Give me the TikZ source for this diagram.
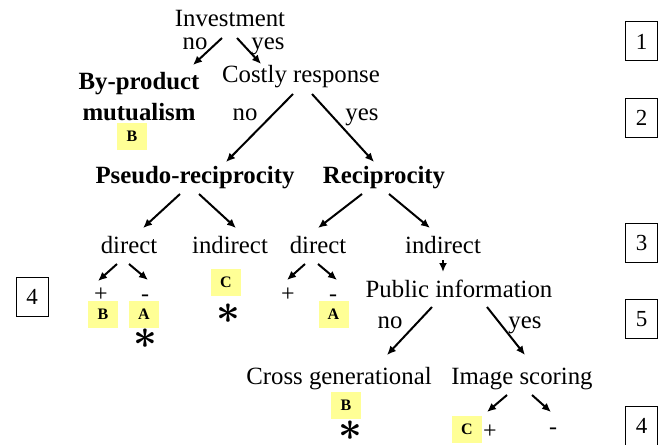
\documentclass[tikz,border=0pt]{standalone}
\usepackage{fontspec}
\setmainfont{Liberation Serif}
\usetikzlibrary{arrows.meta}
\definecolor{tagyellow}{RGB}{255,255,150}

\begin{document}
\begin{tikzpicture}[
		x=0.5pt, y=-0.5pt,
		line width=1pt,
		lbl/.style={inner sep=0pt, anchor=base, text height=8.5pt, text depth=2.5pt, font=\fontsize{12.4}{15.5}\selectfont},
		head/.style={lbl, font=\fontsize{12.4}{15.5}\selectfont\bfseries},
		sgn/.style={lbl, font=\fontsize{12}{14}\selectfont},
		tag/.style={fill=tagyellow, inner sep=0pt, minimum width=15pt, minimum height=13.5pt, font=\fontsize{8}{9}\selectfont\bfseries},
		star/.style={inner sep=0pt, anchor=base, font=\fontsize{20}{20}\selectfont\boldmath},
		level/.style={draw, line width=0.5pt, inner sep=0pt, minimum width=16pt, minimum height=19.5pt, font=\fontsize{11.5}{12}\selectfont},
		arrow/.style={-{Latex[length=4.5pt,width=4pt]}},
	]
		\useasboundingbox (0,0) rectangle (667,444);

		\node (inv) [lbl] at (230,27) {Investment};
		\node (no1) [lbl] at (195,50) {no};
		\node (yes1) [lbl] at (268,50) {yes};
		\node (bpm) [anchor=north, inner sep=0pt, align=center, font=\fontsize{12.4}{15.5}\selectfont\bfseries] at (139,71) {By-product\\mutualism};
		\node (tb1) [tag] at (132,136.5) {B};
		\node (cost) [lbl] at (301,83) {Costly response};
		\node (no2) [lbl] at (245,120) {no};
		\node (yes2) [lbl] at (362,120) {yes};

		\node (pseudo) [head] at (195,183) {Pseudo-reciprocity};
		\node (recip) [head] at (384,183) {Reciprocity};

		\node (dirL) [lbl] at (129,253) {direct};
		\node (indL) [lbl] at (230,253) {indirect};
		\node (dirR) [lbl] at (318,253) {direct};
		\node (indR) [lbl] at (443,253) {indirect};

		\node (plusL) [sgn] at (101,301) {+};
		\node (minusL) [sgn] at (145,301) {-};
		\node (tbL) [tag] at (103,314.5) {B};
		\node (taL) [tag] at (144,314.5) {A};
		\node (stL) [star] at (145,348) {$\ast$};
		\node (tcL) [tag] at (226,282.5) {C};
		\node (stC) [star] at (228,323) {$\ast$};
		\node (plusR) [sgn] at (288,301) {+};
		\node (minusR) [sgn] at (333,301) {-};
		\node (taR) [tag] at (333.5,314) {A};

		\node (pub) [lbl] at (459,297) {Public information};
		\node (no3) [lbl] at (390,328) {no};
		\node (yes3) [lbl] at (525,328) {yes};
		\node (cross) [lbl] at (339,384) {Cross generational};
		\node (img) [lbl] at (522,384) {Image scoring};
		\node (tbX) [tag] at (346,405.5) {B};
		\node (stX) [star] at (350,440) {$\ast$};
		\node (tcI) [tag] at (467,429.5) {C};
		\node (plusI) [sgn] at (490,438) {+};
		\node (minusI) [sgn] at (553,434) {-};

		% levels
		\node (lv1) [level] at (641.5,41.5) {1};
		\node (lv2) [level] at (641.5,117.5) {2};
		\node (lv3) [level] at (641.5,242.5) {3};
		\node (lv5) [level] at (641.5,319) {5};
		\node (lv4) [level] at (641.5,425.5) {4};
		\node (lv4b) [level] at (32,296.5) {4};

		\draw[arrow] ([xshift=-4pt,yshift=-2.5pt]inv.south) -- ([xshift=27pt,yshift=3pt]bpm.north);
		\draw[arrow] ([xshift=3.5pt,yshift=-2.5pt]inv.south) -- ([xshift=-20pt,yshift=0.5pt]cost.north);
		\draw[arrow] ([xshift=-4pt,yshift=-2.5pt]cost.south) -- ([xshift=15.5pt,yshift=1.5pt]pseudo.north);
		\draw[arrow] ([xshift=5.5pt,yshift=-2.5pt]cost.south) -- ([xshift=-5pt,yshift=1.5pt]recip.north);

		\draw[arrow] ([xshift=-7.5pt,yshift=-2.5pt]pseudo.south) -- ([xshift=7pt,yshift=3.5pt]dirL.north);
		\draw[arrow] ([xshift=2pt,yshift=-2.5pt]pseudo.south) -- ([xshift=3pt,yshift=3.5pt]indL.north);
		\draw[arrow] ([xshift=-11pt,yshift=-2.5pt]recip.south) -- ([yshift=3.5pt]dirR.north);
		\draw[arrow] ([xshift=2.5pt,yshift=-2.5pt]recip.south) -- ([xshift=-6.5pt,yshift=3.5pt]indR.north);

		\draw[arrow] ([xshift=-6pt,yshift=-2.5pt]dirL.south) -- ([xshift=-1.5pt,yshift=1pt]plusL.north);
		\draw[arrow] ([yshift=-2.5pt]dirL.south) -- ([xshift=1.5pt,yshift=1.5pt]minusL.north);
		\draw[arrow] ([xshift=-6.5pt,yshift=-2.5pt]dirR.south) -- ([xshift=-0.5pt,yshift=1.5pt]plusR.north);
		\draw[arrow] ([yshift=-2.5pt]dirR.south) -- ([xshift=2pt,yshift=1.5pt]minusR.north);
		\draw[arrow] ([yshift=-0.5pt]indR.south) -- ([xshift=-8pt,yshift=3.5pt]pub.north);

		\draw[arrow] ([xshift=-13.5pt,yshift=-2pt]pub.south) -- ([xshift=24pt,yshift=5.5pt]cross.north);
		\draw[arrow] ([xshift=14pt,yshift=-2pt]pub.south) -- ([xshift=1.5pt,yshift=5.5pt]img.north);
		\draw[arrow] ([xshift=-7.5pt,yshift=-2.5pt]img.south) -- ([xshift=-1.5pt,yshift=4pt]plusI.north);
		\draw[arrow] ([xshift=5pt,yshift=-2.5pt]img.south) -- ([xshift=-1pt,yshift=2pt]minusI.north);
	\end{tikzpicture}
\end{document}
